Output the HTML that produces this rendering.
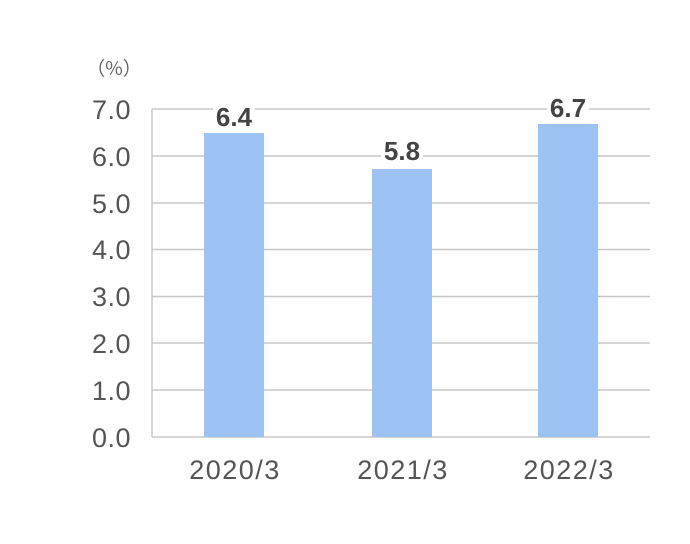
<!DOCTYPE html>
<html><head><meta charset="utf-8"><style>
html,body{margin:0;padding:0;background:#fff;}
svg{display:block;font-family:"Liberation Sans","Noto Sans CJK JP",sans-serif;}
</style></head><body>
<svg width="690" height="544" viewBox="0 0 690 544">
<rect width="690" height="544" fill="#fff"/>
<g stroke="#c8c8c8" stroke-width="1.5">
<line x1="152" y1="109" x2="650" y2="109"/>
<line x1="152" y1="156" x2="650" y2="156"/>
<line x1="152" y1="203" x2="650" y2="203"/>
<line x1="152" y1="249.5" x2="650" y2="249.5"/>
<line x1="152" y1="296.5" x2="650" y2="296.5"/>
<line x1="152" y1="343" x2="650" y2="343"/>
<line x1="152" y1="390" x2="650" y2="390"/>
<line x1="152" y1="437" x2="650" y2="437"/>
<line x1="152" y1="109" x2="152" y2="437"/>
</g>
<g fill="#9dc3f5">
<rect x="204" y="133" width="60" height="304"/>
<rect x="372" y="169" width="60" height="268"/>
<rect x="538" y="124" width="60" height="313"/>
</g>
<g fill="#555" font-size="27" text-anchor="end" letter-spacing="0.5">
<text x="131" y="119">7.0</text>
<text x="131" y="166">6.0</text>
<text x="131" y="213">5.0</text>
<text x="131" y="259">4.0</text>
<text x="131" y="306">3.0</text>
<text x="131" y="353">2.0</text>
<text x="131" y="400">1.0</text>
<text x="131" y="447">0.0</text>
</g>
<text x="114" y="75" fill="#666" font-size="19" text-anchor="middle" font-family="Noto Sans CJK JP, sans-serif">（%）</text>
<g fill="#555" font-size="27" text-anchor="middle" letter-spacing="1.5">
<text x="235" y="479">2020/3</text>
<text x="403" y="479">2021/3</text>
<text x="569" y="479">2022/3</text>
</g>
<g font-size="26" font-weight="bold" fill="#444" text-anchor="middle">
<rect x="213" y="104" width="42" height="22" fill="#fff"/>
<text x="234" y="126">6.4</text>
<rect x="381" y="139" width="42" height="23" fill="#fff"/>
<text x="402" y="160">5.8</text>
<rect x="547" y="95" width="42" height="22" fill="#fff"/>
<text x="568" y="117">6.7</text>
</g>
</svg>
</body></html>
